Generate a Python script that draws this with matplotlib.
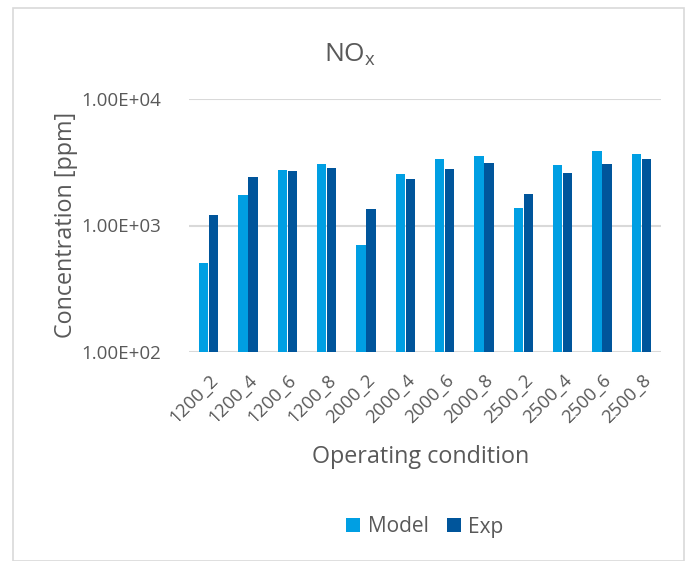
import numpy as np
import matplotlib.pyplot as plt
from matplotlib.patches import Rectangle

plt.rcParams['font.family'] = ['Open Sans', 'DejaVu Sans']

conditions = ['1200_2', '1200_4', '1200_6', '1200_8',
              '2000_2', '2000_4', '2000_6', '2000_8',
              '2500_2', '2500_4', '2500_6', '2500_8']
model = [507, 1738, 2724, 3040, 698, 2565, 3334, 3540, 1364, 2985, 3899, 3650]
exp = [1216, 2432, 2673, 2865, 1356, 2328, 2775, 3098, 1782, 2582, 3083, 3334]
yticks = [100, 1000, 10000]
ytick_labels = ['1.00E+02', '1.00E+03', '1.00E+04']

text_col = '#595959'
grid_col = '#d9d9d9'
model_col = '#009fe3'
exp_col = '#00559b'

fig = plt.figure(figsize=(6.92, 5.61), dpi=100)
W, H = 692, 561
ax = fig.add_axes([189 / W, 1 - 352 / H, 472 / W, 253 / H])

x = np.arange(len(conditions))
w = 0.235
ax.bar(x - 0.13, model, w, color=model_col, label='Model', zorder=3)
ax.bar(x + 0.13, exp, w, color=exp_col, label='Exp', zorder=3)

ax.set_yscale('log')
ax.set_ylim(100, 10000)
ax.set_xlim(-0.5, len(conditions) - 0.5)
ax.set_yticks(yticks)
ax.set_yticklabels(ytick_labels)
ax.minorticks_off()
ax.yaxis.grid(True, color=grid_col, linewidth=1.5, zorder=0)
for s in ax.spines.values():
    s.set_visible(False)
ax.tick_params(axis='both', length=0, colors=text_col)
ax.tick_params(axis='y', pad=20, labelsize=13.5)

ax.set_xticks(x)
ax.set_xticklabels(conditions, rotation=45, ha='right', rotation_mode='anchor')
ax.tick_params(axis='x', pad=14, labelsize=13.2)

fig.text(66 / W, 1 - 225 / H, 'Concentration [ppm]', rotation=90,
         ha='center', va='center', fontsize=16.8, color=text_col)
fig.text(421 / W, 1 - 457 / H, 'Operating condition', ha='center', va='center',
         fontsize=16.8, color=text_col)
fig.text(350 / W, 1 - 61 / H, r'NO$_\mathregular{x}$', ha='center', va='baseline',
         fontsize=19, color=text_col)

fig.legend(loc='center', bbox_to_anchor=(425 / W, 1 - 527 / H), ncol=2, frameon=False,
           fontsize=15, labelcolor=text_col, handlelength=0.67, handleheight=0.67,
           handletextpad=0.35, columnspacing=0.9)

fig.patches.append(Rectangle((13 / W, 0), 671 / W, 1 - 8 / H, transform=fig.transFigure,
                             fill=False, edgecolor=grid_col, linewidth=1.2))

plt.savefig('out.png', dpi=100)
plt.close()
